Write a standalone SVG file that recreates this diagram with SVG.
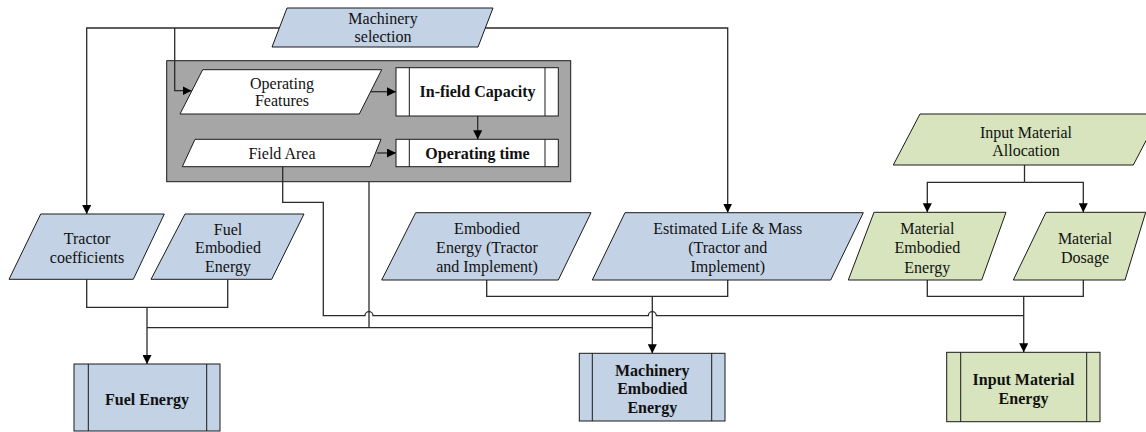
<svg xmlns="http://www.w3.org/2000/svg" width="1146" height="432" viewBox="0 0 1146 432">
  <defs>
    <marker id="arrow" viewBox="0 0 10 10" refX="10" refY="5" markerWidth="9" markerHeight="9" markerUnits="userSpaceOnUse" orient="auto">
      <path d="M0,0 L10,5 L0,10 Z" fill="#000"/>
    </marker>
    <style>
      text { font-family: "Liberation Serif", "Times New Roman", serif; font-size: 16px; fill: #111; text-anchor: middle; dominant-baseline: central; }
      .b { font-weight: bold; }
      .blue { fill: #c3d2e5; stroke: #1a1a1a; stroke-width: 1; }
      .green { fill: #d7e4bd; stroke: #1a1a1a; stroke-width: 1; }
      .white { fill: #ffffff; stroke: #1a1a1a; stroke-width: 1; }
      .bar { stroke: #1a1a1a; stroke-width: 1; fill: none; }
      .conn { fill: none; stroke: #2a2a2a; stroke-width: 1.3; }
      .arr { marker-end: url(#arrow); }
    </style>
  </defs>

  <!-- grey process panel -->
  <g id="panel">
    <rect x="166.7" y="60.7" width="404" height="121" fill="#a6a6a6" stroke="#1a1a1a" stroke-width="1"/>
  </g>

  <!-- connectors -->
  <g id="connectors">
    <path class="conn arr" d="M279.3,28 H86.7 V214"/>
    <path class="conn arr" d="M174.7,28 V90.7 H191.5"/>
    <path class="conn arr" d="M485.3,28 H727.7 V212.7"/>
    <path class="conn arr" d="M370,91.7 H396"/>
    <path class="conn arr" d="M477.7,116 V139.3"/>
    <path class="conn arr" d="M376.7,153 H396"/>
    <path class="conn" d="M282.7,166.7 V202.3 H323.3 V315.7 H365 A4,4 0 0 1 373,315.7 H648.3 A4,4 0 0 1 656.3,315.7 H1023.7"/>
    <path class="conn" d="M369,181.7 V327.7"/>
    <path class="conn" d="M147,327.7 H652.3"/>
    <path class="conn" d="M86.7,279.3 V307.3 H227.7 V279.3"/>
    <path class="conn arr" d="M147,307.3 V364"/>
    <path class="conn" d="M486.7,280 V296.3 H727.7 V280"/>
    <path class="conn arr" d="M652.3,296.3 V353.3"/>
    <path class="conn" d="M1024.5,165 V182.3"/>
    <path class="conn arr" d="M1024.5,182.3 H927.3 V212.3"/>
    <path class="conn arr" d="M1024.5,182.3 H1083.3 V212.3"/>
    <path class="conn" d="M927.3,280 V296.3 H1083.3 V280"/>
    <path class="conn arr" d="M1023.7,296.3 V352.3"/>
  </g>

  <g id="machinery-selection">
    <polygon class="blue" points="287,8 493,8 478,47 272,47"/>
    <text x="383" y="18">Machinery</text>
    <text x="383" y="36.5">selection</text>
  </g>

  <g id="operating-features">
    <polygon class="white" points="202.7,69.7 381.7,69.7 359.3,114 180,114"/>
    <text x="282" y="83">Operating</text>
    <text x="282" y="100.5">Features</text>
  </g>

  <g id="infield-capacity">
    <rect class="white" x="396" y="67.7" width="162.3" height="48.3"/>
    <line class="bar" x1="409.3" y1="67.7" x2="409.3" y2="116"/>
    <line class="bar" x1="545" y1="67.7" x2="545" y2="116"/>
    <text class="b" x="477.5" y="91.7">In-field Capacity</text>
  </g>

  <g id="field-area">
    <polygon class="white" points="195,139.3 381,139.3 370,166.7 182.3,166.7"/>
    <text x="282" y="153">Field Area</text>
  </g>

  <g id="operating-time">
    <rect class="white" x="396" y="139.3" width="162.3" height="27.4"/>
    <line class="bar" x1="409.3" y1="139.3" x2="409.3" y2="166.7"/>
    <line class="bar" x1="545" y1="139.3" x2="545" y2="166.7"/>
    <text class="b" x="477.5" y="153">Operating time</text>
  </g>

  <g id="tractor-coefficients">
    <polygon class="blue" points="40.7,214 164.3,214 133.3,279.3 9,279.3"/>
    <text x="87" y="238">Tractor</text>
    <text x="87" y="257.5">coefficients</text>
  </g>

  <g id="fuel-embodied-energy">
    <polygon class="blue" points="185,214 304,214 271.7,279.3 151,279.3"/>
    <text x="228" y="229">Fuel</text>
    <text x="228" y="247.5">Embodied</text>
    <text x="228" y="266.5">Energy</text>
  </g>

  <g id="embodied-energy">
    <polygon class="blue" points="415.7,212.7 591,212.7 558.3,280 381.7,280"/>
    <text x="487" y="228.3">Embodied</text>
    <text x="487" y="247.5">Energy (Tractor</text>
    <text x="487" y="266.3">and Implement)</text>
  </g>

  <g id="estimated-life-mass">
    <polygon class="blue" points="625,212.7 863.3,212.7 830.7,280 592.3,280"/>
    <text x="727.7" y="228.3">Estimated Life &amp; Mass</text>
    <text x="727.7" y="247.5">(Tractor and</text>
    <text x="727.7" y="266.5">Implement)</text>
  </g>

  <g id="input-material-allocation">
    <polygon class="green" points="920,114 1160,114 1133.3,165 893.3,165"/>
    <text x="1026" y="132.3">Input Material</text>
    <text x="1026" y="150.7">Allocation</text>
  </g>

  <g id="material-embodied-energy">
    <polygon class="green" points="874,212.3 1006,212.3 981.7,280 848.3,280"/>
    <text x="927.3" y="228.3">Material</text>
    <text x="927.3" y="247.5">Embodied</text>
    <text x="927.3" y="267">Energy</text>
  </g>

  <g id="material-dosage">
    <polygon class="green" points="1046,212.3 1145.7,212.3 1125,280 1013.3,280"/>
    <text x="1085" y="238.3">Material</text>
    <text x="1085" y="257.7">Dosage</text>
  </g>

  <g id="fuel-energy">
    <rect class="blue" x="74" y="364" width="146" height="67"/>
    <line class="bar" x1="88.3" y1="364" x2="88.3" y2="431"/>
    <line class="bar" x1="206.7" y1="364" x2="206.7" y2="431"/>
    <text class="b" x="147" y="399">Fuel Energy</text>
  </g>

  <g id="machinery-embodied-energy">
    <rect class="blue" x="579.3" y="353.3" width="145.7" height="67.7"/>
    <line class="bar" x1="592.3" y1="353.3" x2="592.3" y2="421"/>
    <line class="bar" x1="711.7" y1="353.3" x2="711.7" y2="421"/>
    <text class="b" x="652.3" y="370">Machinery</text>
    <text class="b" x="652.3" y="388.7">Embodied</text>
    <text class="b" x="652.3" y="407.3">Energy</text>
  </g>

  <g id="input-material-energy">
    <rect class="green" x="946.7" y="352.3" width="153.3" height="69.4"/>
    <line class="bar" x1="960.7" y1="352.3" x2="960.7" y2="421.7"/>
    <line class="bar" x1="1086.7" y1="352.3" x2="1086.7" y2="421.7"/>
    <text class="b" x="1023.5" y="379.3">Input Material</text>
    <text class="b" x="1023.5" y="398.3">Energy</text>
  </g>
</svg>
